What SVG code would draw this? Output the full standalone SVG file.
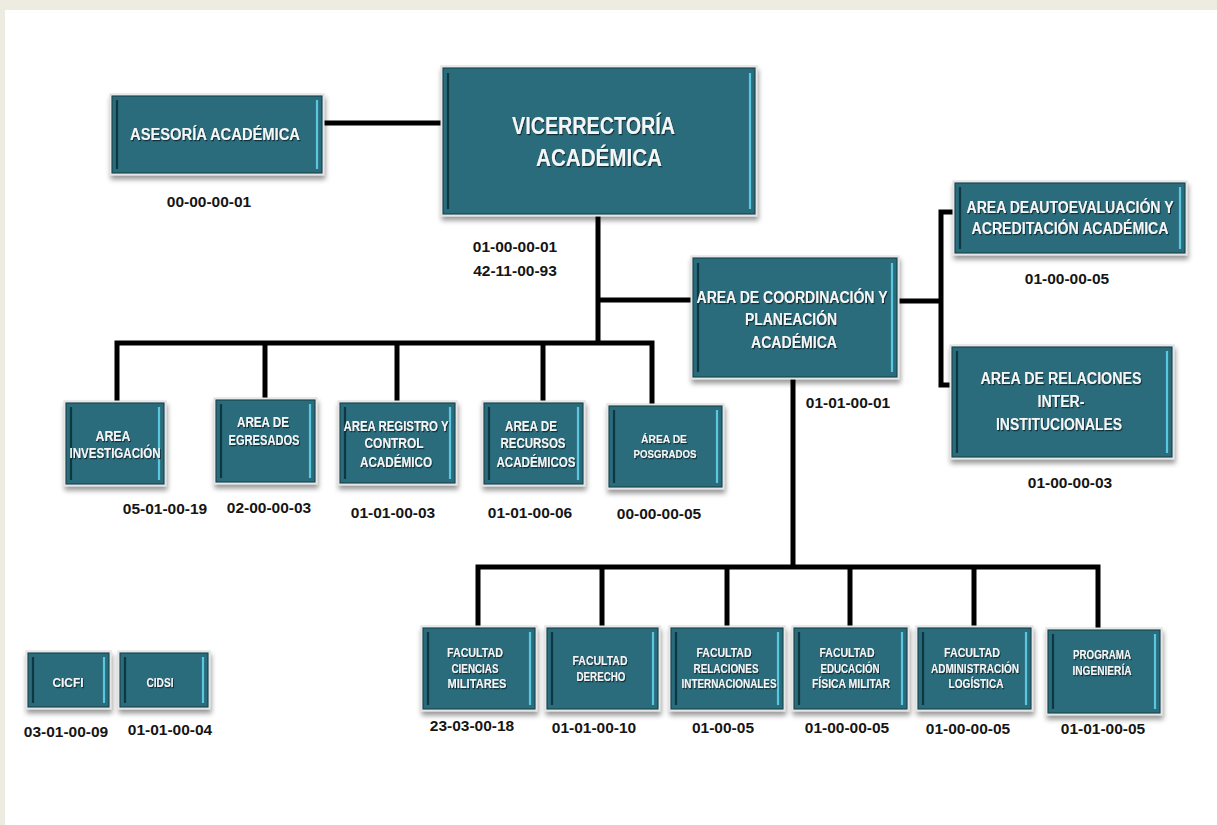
<svg xmlns="http://www.w3.org/2000/svg" width="1217" height="825" viewBox="0 0 1217 825">
<defs>
<filter id="sh" x="-15%" y="-15%" width="135%" height="145%">
<feDropShadow dx="1" dy="4" stdDeviation="2.5" flood-color="#000" flood-opacity="0.4"/>
</filter>
<filter id="ts" x="-5%" y="-30%" width="115%" height="170%">
<feDropShadow dx="1" dy="1.2" stdDeviation="0.6" flood-color="#0a2630" flood-opacity="0.9"/>
</filter>
</defs>
<style>
.frame{fill:#f4f4f4;stroke:#d9d9d9;stroke-width:1;filter:url(#sh)}
.box{fill:#2a6b7c;stroke:#18444f;stroke-width:1.2}
.il{stroke:#0f3742;stroke-width:2.2}
.ir{stroke:#5ac6e0;stroke-width:2.2}
.t{font-family:"Liberation Sans Narrow","Liberation Sans",Arial,sans-serif;font-weight:bold;fill:#f4f6f6;text-anchor:middle;filter:url(#ts)}
.lb{font-family:"Liberation Sans",Arial,sans-serif;font-weight:bold;font-size:15.5px;fill:#151515;text-anchor:middle}
.c{fill:none;stroke:#000;stroke-width:5;stroke-linejoin:miter}
</style>
<rect x="0" y="0" width="1217" height="825" fill="#eeebe0"/>
<rect x="5" y="10" width="1212" height="815" fill="#ffffff"/>

<g id="connectors">
<path class="c" d="M322,123 H443"/>
<path class="c" d="M598,214 V345"/>
<path class="c" d="M598,300 H693"/>
<path class="c" d="M117,403 V343 H652 V406"/>
<path class="c" d="M265,343 V400"/>
<path class="c" d="M397,343 V403"/>
<path class="c" d="M543,343 V403"/>
<path class="c" d="M897,301 H941"/>
<path class="c" d="M955,212 H941 V385 H952"/>
<path class="c" d="M793,377 V567"/>
<path class="c" d="M478,628 V567 H1098 V630"/>
<path class="c" d="M602,567 V628"/>
<path class="c" d="M727,567 V628"/>
<path class="c" d="M850,567 V628"/>
<path class="c" d="M974,567 V628"/>
</g>

<g id="asesoria">
<rect class="frame" x="110" y="94" width="214" height="81"/>
<rect class="box" x="112" y="96" width="210" height="77"/>
<line class="il" x1="117" y1="100" x2="117" y2="169"/>
<line class="ir" x1="317" y1="100" x2="317" y2="169"/>
<text class="t" x="215" y="140" font-size="16" textLength="170" lengthAdjust="spacingAndGlyphs">ASESORÍA  ACADÉMICA</text>
</g>

<g id="vicerrectoria">
<rect class="frame" x="441" y="66" width="316" height="150"/>
<rect class="box" x="443" y="68" width="312" height="146"/>
<line class="il" x1="448" y1="73" x2="448" y2="209"/>
<line class="ir" x1="750" y1="73" x2="750" y2="209"/>
<text class="t" x="593.5" y="134" font-size="24" textLength="163" lengthAdjust="spacingAndGlyphs">VICERRECTORÍA</text>
<text class="t" x="599" y="166" font-size="24" textLength="126" lengthAdjust="spacingAndGlyphs">ACADÉMICA</text>
</g>

<g id="coordinacion">
<rect class="frame" x="691" y="256" width="208" height="123"/>
<rect class="box" x="693" y="258" width="204" height="119"/>
<line class="il" x1="698" y1="263" x2="698" y2="372"/>
<line class="ir" x1="892" y1="263" x2="892" y2="372"/>
<text class="t" x="792" y="303" font-size="16" textLength="191" lengthAdjust="spacingAndGlyphs">AREA DE COORDINACIÓN Y</text>
<text class="t" x="791" y="325" font-size="16" textLength="92" lengthAdjust="spacingAndGlyphs">PLANEACIÓN</text>
<text class="t" x="794" y="348" font-size="16" textLength="86" lengthAdjust="spacingAndGlyphs">ACADÉMICA</text>
</g>

<g id="autoevaluacion">
<rect class="frame" x="953" y="181" width="234" height="74"/>
<rect class="box" x="955" y="183" width="230" height="70"/>
<line class="il" x1="960" y1="187" x2="960" y2="249"/>
<line class="ir" x1="1180" y1="187" x2="1180" y2="249"/>
<text class="t" x="1070" y="213" font-size="16" textLength="207" lengthAdjust="spacingAndGlyphs">AREA DEAUTOEVALUACIÓN Y</text>
<text class="t" x="1070" y="234" font-size="16" textLength="197" lengthAdjust="spacingAndGlyphs">ACREDITACIÓN ACADÉMICA</text>
</g>

<g id="relaciones">
<rect class="frame" x="950" y="345" width="224" height="114"/>
<rect class="box" x="952" y="347" width="220" height="110"/>
<line class="il" x1="957" y1="351" x2="957" y2="453"/>
<line class="ir" x1="1167" y1="351" x2="1167" y2="453"/>
<text class="t" x="1061" y="384" font-size="16" textLength="161" lengthAdjust="spacingAndGlyphs">AREA  DE RELACIONES</text>
<text class="t" x="1061" y="407" font-size="16" textLength="47" lengthAdjust="spacingAndGlyphs">INTER-</text>
<text class="t" x="1059" y="430" font-size="16" textLength="126" lengthAdjust="spacingAndGlyphs">INSTITUCIONALES</text>
</g>

<g id="investigacion">
<rect class="frame" x="64" y="401" width="102" height="85"/>
<rect class="box" x="66" y="403" width="98" height="81"/>
<line class="il" x1="71" y1="407" x2="71" y2="480"/>
<line class="ir" x1="159" y1="407" x2="159" y2="480"/>
<text class="t" x="113" y="441" font-size="14" textLength="35" lengthAdjust="spacingAndGlyphs">AREA</text>
<text class="t" x="115" y="458" font-size="14" textLength="91" lengthAdjust="spacingAndGlyphs">INVESTIGACIÓN</text>
</g>

<g id="egresados">
<rect class="frame" x="214" y="398" width="103" height="86"/>
<rect class="box" x="216" y="400" width="99" height="82"/>
<line class="il" x1="221" y1="404" x2="221" y2="478"/>
<line class="ir" x1="310" y1="404" x2="310" y2="478"/>
<text class="t" x="263" y="427" font-size="14" textLength="52" lengthAdjust="spacingAndGlyphs">AREA DE</text>
<text class="t" x="264" y="445" font-size="14" textLength="71" lengthAdjust="spacingAndGlyphs">EGRESADOS</text>
</g>

<g id="registro">
<rect class="frame" x="338" y="401" width="119" height="84"/>
<rect class="box" x="340" y="403" width="115" height="80"/>
<line class="il" x1="345" y1="407" x2="345" y2="479"/>
<line class="ir" x1="450" y1="407" x2="450" y2="479"/>
<text class="t" x="396" y="431" font-size="14" textLength="105" lengthAdjust="spacingAndGlyphs">AREA REGISTRO Y</text>
<text class="t" x="394" y="448" font-size="14" textLength="59" lengthAdjust="spacingAndGlyphs">CONTROL</text>
<text class="t" x="396" y="467" font-size="14" textLength="72" lengthAdjust="spacingAndGlyphs">ACADÉMICO</text>
</g>

<g id="recursos">
<rect class="frame" x="482" y="401" width="103" height="85"/>
<rect class="box" x="484" y="403" width="99" height="81"/>
<line class="il" x1="489" y1="407" x2="489" y2="480"/>
<line class="ir" x1="578" y1="407" x2="578" y2="480"/>
<text class="t" x="531" y="431" font-size="14" textLength="52" lengthAdjust="spacingAndGlyphs">AREA DE</text>
<text class="t" x="533" y="448" font-size="14" textLength="65" lengthAdjust="spacingAndGlyphs">RECURSOS</text>
<text class="t" x="536" y="467" font-size="14" textLength="79" lengthAdjust="spacingAndGlyphs">ACADÉMICOS</text>
</g>

<g id="posgrados">
<rect class="frame" x="607" y="404" width="117" height="85"/>
<rect class="box" x="609" y="406" width="113" height="81"/>
<line class="il" x1="614" y1="410" x2="614" y2="483"/>
<line class="ir" x1="717" y1="410" x2="717" y2="483"/>
<text class="t" x="664" y="443" font-size="11" textLength="46" lengthAdjust="spacingAndGlyphs">ÁREA DE</text>
<text class="t" x="665" y="458" font-size="11" textLength="63" lengthAdjust="spacingAndGlyphs">POSGRADOS</text>
</g>

<g id="fc-militares">
<rect class="frame" x="421" y="626" width="116" height="85"/>
<rect class="box" x="423" y="628" width="112" height="81"/>
<line class="il" x1="428" y1="632" x2="428" y2="705"/>
<line class="ir" x1="530" y1="632" x2="530" y2="705"/>
<text class="t" x="475" y="657" font-size="12.5" textLength="56" lengthAdjust="spacingAndGlyphs">FACULTAD</text>
<text class="t" x="475" y="673" font-size="12.5" textLength="47" lengthAdjust="spacingAndGlyphs">CIENCIAS</text>
<text class="t" x="477" y="688" font-size="12.5" textLength="59" lengthAdjust="spacingAndGlyphs">MILITARES</text>
</g>

<g id="fc-derecho">
<rect class="frame" x="545" y="626" width="115" height="85"/>
<rect class="box" x="547" y="628" width="111" height="81"/>
<line class="il" x1="552" y1="632" x2="552" y2="705"/>
<line class="ir" x1="653" y1="632" x2="653" y2="705"/>
<text class="t" x="600" y="665" font-size="12.5" textLength="55" lengthAdjust="spacingAndGlyphs">FACULTAD</text>
<text class="t" x="601" y="681" font-size="12.5" textLength="49" lengthAdjust="spacingAndGlyphs">DERECHO</text>
</g>

<g id="fc-relaciones-internacionales">
<rect class="frame" x="669" y="626" width="116" height="85"/>
<rect class="box" x="671" y="628" width="112" height="81"/>
<line class="il" x1="676" y1="632" x2="676" y2="705"/>
<line class="ir" x1="778" y1="632" x2="778" y2="705"/>
<text class="t" x="724" y="657" font-size="12.5" textLength="55" lengthAdjust="spacingAndGlyphs">FACULTAD</text>
<text class="t" x="726" y="673" font-size="12.5" textLength="65" lengthAdjust="spacingAndGlyphs">RELACIONES</text>
<text class="t" x="729" y="688" font-size="12.5" textLength="95" lengthAdjust="spacingAndGlyphs">INTERNACIONALES</text>
</g>

<g id="fc-educacion-fisica">
<rect class="frame" x="792" y="626" width="117" height="85"/>
<rect class="box" x="794" y="628" width="113" height="81"/>
<line class="il" x1="799" y1="632" x2="799" y2="705"/>
<line class="ir" x1="902" y1="632" x2="902" y2="705"/>
<text class="t" x="847" y="657" font-size="12.5" textLength="55" lengthAdjust="spacingAndGlyphs">FACULTAD</text>
<text class="t" x="850" y="673" font-size="12.5" textLength="59" lengthAdjust="spacingAndGlyphs">EDUCACIÓN</text>
<text class="t" x="851" y="688" font-size="12.5" textLength="78" lengthAdjust="spacingAndGlyphs">FÍSICA MILITAR</text>
</g>

<g id="fc-administracion">
<rect class="frame" x="916" y="626" width="117" height="85"/>
<rect class="box" x="918" y="628" width="113" height="81"/>
<line class="il" x1="923" y1="632" x2="923" y2="705"/>
<line class="ir" x1="1026" y1="632" x2="1026" y2="705"/>
<text class="t" x="972" y="657" font-size="12.5" textLength="56" lengthAdjust="spacingAndGlyphs">FACULTAD</text>
<text class="t" x="975" y="673" font-size="12.5" textLength="88" lengthAdjust="spacingAndGlyphs">ADMINISTRACIÓN</text>
<text class="t" x="976" y="688" font-size="12.5" textLength="55" lengthAdjust="spacingAndGlyphs">LOGÍSTICA</text>
</g>

<g id="programa-ingenieria">
<rect class="frame" x="1046" y="628" width="116" height="87"/>
<rect class="box" x="1048" y="630" width="112" height="83"/>
<line class="il" x1="1053" y1="634" x2="1053" y2="709"/>
<line class="ir" x1="1155" y1="634" x2="1155" y2="709"/>
<text class="t" x="1102" y="659" font-size="12.5" textLength="58" lengthAdjust="spacingAndGlyphs">PROGRAMA</text>
<text class="t" x="1102" y="675" font-size="12.5" textLength="59" lengthAdjust="spacingAndGlyphs">INGENIERÍA</text>
</g>

<g id="cicfi">
<rect class="frame" x="26" y="651" width="85" height="58"/>
<rect class="box" x="28" y="653" width="81" height="54"/>
<line class="il" x1="33" y1="657" x2="33" y2="703"/>
<line class="ir" x1="104" y1="657" x2="104" y2="703"/>
<text class="t" x="68" y="687" font-size="13.5" textLength="31" lengthAdjust="spacingAndGlyphs">CICFI</text>
</g>

<g id="cidsi">
<rect class="frame" x="118" y="651" width="92" height="58"/>
<rect class="box" x="120" y="653" width="88" height="54"/>
<line class="il" x1="125" y1="657" x2="125" y2="703"/>
<line class="ir" x1="203" y1="657" x2="203" y2="703"/>
<text class="t" x="160" y="687" font-size="13.5" textLength="27" lengthAdjust="spacingAndGlyphs">CIDSI</text>
</g>

<g id="labels">
<text class="lb" x="209" y="207">00-00-00-01</text>
<text class="lb" x="515" y="252">01-00-00-01</text>
<text class="lb" x="515" y="276">42-11-00-93</text>
<text class="lb" x="848" y="408">01-01-00-01</text>
<text class="lb" x="1067" y="284">01-00-00-05</text>
<text class="lb" x="1070" y="488">01-00-00-03</text>
<text class="lb" x="165" y="514">05-01-00-19</text>
<text class="lb" x="269" y="513">02-00-00-03</text>
<text class="lb" x="393" y="518">01-01-00-03</text>
<text class="lb" x="530" y="518">01-01-00-06</text>
<text class="lb" x="659" y="519">00-00-00-05</text>
<text class="lb" x="472" y="731">23-03-00-18</text>
<text class="lb" x="594" y="733">01-01-00-10</text>
<text class="lb" x="723" y="733">01-00-05</text>
<text class="lb" x="847" y="733">01-00-00-05</text>
<text class="lb" x="968" y="734">01-00-00-05</text>
<text class="lb" x="1103" y="734">01-01-00-05</text>
<text class="lb" x="66" y="737">03-01-00-09</text>
<text class="lb" x="170" y="735">01-01-00-04</text>
</g>
</svg>
